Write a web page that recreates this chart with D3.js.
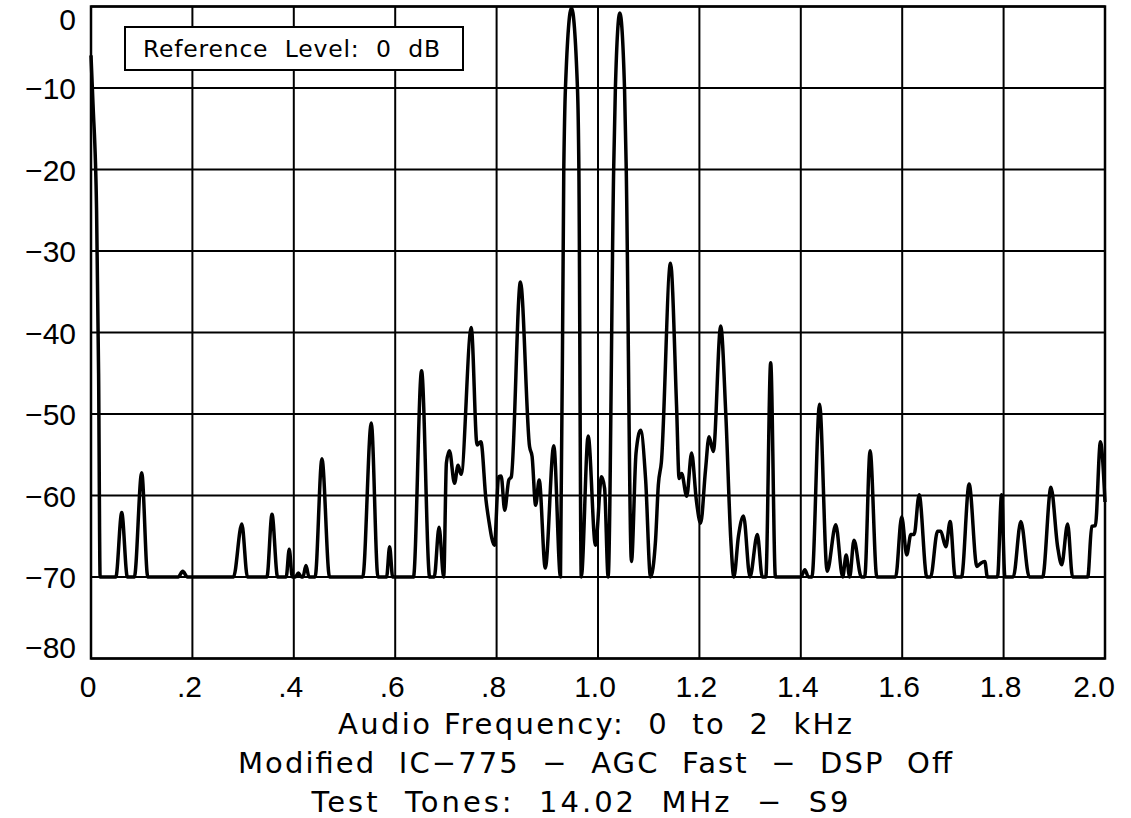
<!DOCTYPE html>
<html>
<head>
<meta charset="utf-8">
<script src="https://cdn.jsdelivr.net/npm/d3@7"></script>
<style>
  html, body { margin: 0; padding: 0; background: #fff; }
  svg { display: block; }
  text { font-family: "Liberation Sans", Arial, sans-serif; fill: #000; }
  text.wide { font-family: "DejaVu Sans", "Liberation Sans", sans-serif; }
</style>
</head>
<body>
<svg id="chart" width="1131" height="818"></svg>
<script>
// ---- Data ----
const freqKHz = [
  0, 0.004, 0.011, 0.015, 0.018, 0.049, 0.0606, 0.0717, 0.0855, 0.100, 0.112,
  0.172, 0.181, 0.190, 0.281, 0.2975, 0.3086, 0.347, 0.357, 0.368,
  0.385, 0.391, 0.397, 0.403, 0.409, 0.415, 0.418, 0.424, 0.430,
  0.442, 0.4555, 0.4705, 0.536, 0.5528, 0.566, 0.583, 0.589, 0.595,
  0.636, 0.652, 0.668, 0.677, 0.6865, 0.6957, 0.701, 0.707, 0.717, 0.724, 0.730,
  0.750, 0.7615, 0.769, 0.779, 0.7845, 0.7957, 0.804, 0.809, 0.816, 0.824, 0.829,
  0.847, 0.865, 0.870, 0.877, 0.884, 0.896, 0.9128, 0.926,
  0.9325, 0.9358, 0.9477, 0.9595, 0.9623, 0.967,
  0.9806, 0.995, 1.007, 1.013, 1.020,
  1.0309, 1.0343, 1.043, 1.0523, 1.0557, 1.066,
  1.075, 1.084, 1.094, 1.1036, 1.1135, 1.119, 1.125, 1.143,
  1.155, 1.160, 1.165, 1.175, 1.1846, 1.194, 1.2024, 1.212, 1.219, 1.2275, 1.242,
  1.252, 1.262, 1.268, 1.277, 1.287, 1.2997, 1.3143, 1.324, 1.331, 1.3406, 1.350,
  1.400, 1.408, 1.415, 1.422, 1.437, 1.452, 1.469, 1.4826, 1.4895, 1.4964, 1.5049,
  1.5194, 1.526, 1.5367, 1.550, 1.587, 1.599, 1.609, 1.617, 1.6235, 1.6334, 1.6486,
  1.656, 1.6697, 1.676, 1.686, 1.6946, 1.7045, 1.717, 1.732, 1.7473, 1.755, 1.763, 1.768,
  1.788, 1.796, 1.8026, 1.819, 1.834, 1.8506, 1.877, 1.8934, 1.9066, 1.9145, 1.9263, 1.936,
  1.966, 1.9738, 1.981, 1.991, 2.0
];
const levelDb = [
  -6, -12, -25, -45, -70, -70, -62.1, -70, -70, -57.2, -70,
  -70, -69.3, -70, -70, -63.5, -70, -70, -62.3, -70,
  -70, -66.6, -70, -70, -69.5, -70, -70, -68.6, -70,
  -70, -55.5, -70, -70, -51.1, -70, -70, -66.3, -70,
  -70, -44.7, -70, -70, -63.9, -70, -56, -54.5, -58.5, -56.3, -57.4,
  -39.4, -53.8, -53.4, -60.5, -63, -66.1, -57.7, -57.6, -61.8, -58.1, -57.7,
  -33.8, -54, -55.2, -61.2, -58.1, -68.9, -53.9, -70,
  -20, -10, -0.2, -10, -20, -70,
  -52.7, -66.1, -57.7, -59.1, -70,
  -20, -10, -0.8, -10, -20, -68.1,
  -54.8, -52.0, -58.1, -70, -65.5, -58.7, -55.9, -31.5,
  -49.1, -57.9, -57.3, -60.1, -54.8, -60.6, -63.4, -56.9, -52.8, -54.6, -39.2,
  -49.9, -65.5, -70, -65.0, -62.5, -70, -64.8, -70, -70, -43.7, -70,
  -70, -69.1, -70, -70, -48.8, -69.3, -63.6, -70, -67.3, -70, -65.5,
  -70, -70, -54.5, -70, -70, -62.6, -67.3, -64.8, -64.8, -59.9, -70,
  -70, -64.4, -64.4, -66.3, -63.2, -70, -70, -58.6, -68.7, -68.3, -68.1, -70,
  -70, -59.9, -70, -70, -63.2, -70, -70, -59.0, -66.3, -68.5, -63.5, -70,
  -70, -63.8, -63.7, -53.4, -60.8
];
const xTickValues = [0, 0.2, 0.4, 0.6, 0.8, 1.0, 1.2, 1.4, 1.6, 1.8, 2.0];
const xTickLabels = ["0", ".2", ".4", ".6", ".8", "1.0", "1.2", "1.4", "1.6", "1.8", "2.0"];
const yTickValues = [0, -10, -20, -30, -40, -50, -60, -70, -80];
const yTickLabels = ["0", "\u221210", "\u221220", "\u221230", "\u221240", "\u221250", "\u221260", "\u221270", "\u221280"];
const titleLines = [
  "Audio Frequency:  0  to  2  kHz",
  "Modified  IC\u2212775  \u2212  AGC  Fast  \u2212  DSP  Off",
  "Test  Tones:  14.02  MHz  \u2212  S9"
];
const legendText = "Reference  Level:  0  dB";

// ---- Layout ----
const svg = d3.select("#chart");
const mLeft = 91, mRight = 1105, mTop = 6.5, mBottom = 658.5;
const x = d3.scaleLinear().domain([0, 2]).range([mLeft, mRight]);
const y = d3.scaleLinear().domain([-80, 0]).range([mBottom, mTop]);

// grid
const grid = svg.append("g");
grid.selectAll("line.v").data(xTickValues).join("line")
  .attr("class", "v")
  .attr("x1", d => x(d)).attr("x2", d => x(d))
  .attr("y1", mTop).attr("y2", mBottom)
  .attr("stroke", "#000").attr("stroke-width", 2);
grid.selectAll("line.h").data(yTickValues).join("line")
  .attr("class", "h")
  .attr("x1", mLeft).attr("x2", mRight)
  .attr("y1", d => y(d)).attr("y2", d => y(d))
  .attr("stroke", "#000").attr("stroke-width", 2);

// frame
svg.append("rect").attr("x", mLeft).attr("y", mTop)
  .attr("width", mRight - mLeft).attr("height", mBottom - mTop)
  .attr("fill", "none").attr("stroke", "#000").attr("stroke-width", 2.5);

// legend box
svg.append("rect").attr("x", 125).attr("y", 27).attr("width", 338).attr("height", 43)
  .attr("fill", "#fff").attr("stroke", "#000").attr("stroke-width", 2);
svg.append("text").attr("class", "wide").attr("x", 143).attr("y", 57)
  .attr("font-size", 23.5)
  .attr("textLength", 297).attr("lengthAdjust", "spacing")
  .style("white-space", "pre")
  .text(legendText);

// curve
const pts = freqKHz.map((f, i) => [f, levelDb[i]]);
const line = d3.line().x(d => x(d[0])).y(d => y(d[1])).curve(d3.curveMonotoneX);
svg.append("path").datum(pts)
  .attr("d", line)
  .attr("fill", "none").attr("stroke", "#000")
  .attr("stroke-width", 3.5).attr("stroke-linejoin", "round");

// y tick labels
svg.append("g").selectAll("text").data(yTickValues).join("text")
  .attr("x", 76)
  .attr("y", d => {
    let cy = y(d);
    if (d === 0) cy = 19;
    if (d === -80) cy = 647;
    return cy + 11;
  })
  .attr("text-anchor", "end")
  .attr("font-size", 30)
  .text((d, i) => yTickLabels[i]);

// x tick labels
svg.append("g").selectAll("text").data(xTickValues).join("text")
  .attr("x", (d, i) => i === xTickValues.length - 1 ? x(d) - 11 : x(d) - 3)
  .attr("y", 697)
  .attr("text-anchor", "middle")
  .attr("font-size", 30)
  .text((d, i) => xTickLabels[i]);

// title lines
const titleX = [595, 595, 580];
const titleY = [734, 773, 812];
const titleW = [514, 714, 537];
svg.append("g").selectAll("text").data(titleLines).join("text")
  .attr("class", "wide")
  .attr("x", (d, i) => titleX[i])
  .attr("y", (d, i) => titleY[i])
  .attr("text-anchor", "middle")
  .attr("font-size", 29)
  .attr("textLength", (d, i) => titleW[i]).attr("lengthAdjust", "spacing")
  .style("white-space", "pre")
  .text(d => d);
</script>
</body>
</html>
